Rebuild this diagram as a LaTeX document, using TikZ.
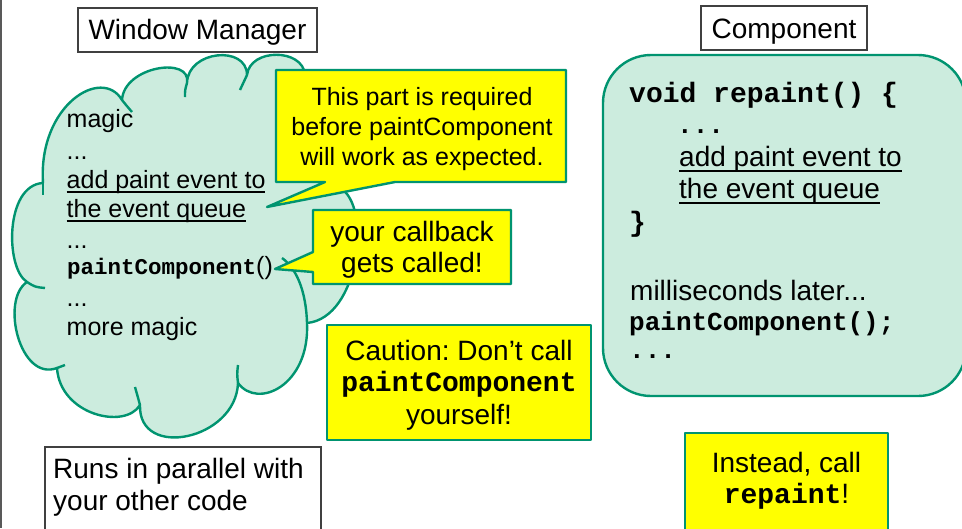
\documentclass[tikz,border=0pt]{standalone}
\usepackage{fontspec}
\setmainfont{Liberation Sans}
\newfontfamily\codefont{Liberation Mono}
\definecolor{cfill}{RGB}{204,236,222}
\definecolor{cline}{RGB}{0,148,112}
\definecolor{yfill}{RGB}{255,255,0}
\newsavebox\ulbox
\newcommand\ulx[1]{\sbox\ulbox{#1}\rlap{\rule[-0.18em]{\wd\ulbox}{0.055em}}\usebox\ulbox}
\newcommand\cw[1]{{\codefont\bfseries #1}}
\newcommand\szA{\fontsize{25}{30}\selectfont}
\newcommand\szB{\fontsize{28}{33}\selectfont}
\newcommand\szC{\fontsize{26}{31}\selectfont}
\newcommand\szD{\fontsize{22.5}{27}\selectfont}
\frenchspacing
\begin{document}
\begin{tikzpicture}[x=1pt,y=-1pt,
  greenline/.style={draw=cline, line width=2.4pt, line join=round},
  cloudsty/.style={greenline, fill=cfill},
  ybox/.style={greenline, fill=yfill},
  frame/.style={draw=black!75, line width=1.2pt, inner sep=0pt},
  lt/.style={anchor=base west, inner sep=0pt},
  ct/.style={anchor=base, inner sep=0pt}]
\useasboundingbox (0,0) rectangle (962,528);
\clip (0,0) rectangle (962,528);
\fill[white] (0,0) rectangle (962,528);
\coordinate (edgetop) at (1,0);
\coordinate (edgebot) at (1,528);
\draw[line width=1.6pt, black!65] (edgetop) -- (edgebot);

% ---------- cloud ----------
\filldraw[cloudsty] (43,183)
  .. controls (38,105) and (102,66) .. (122,100)
  .. controls (124,66) and (192,56) .. (187,83)
  .. controls (188,50) and (247,45) .. (247,75)
  .. controls (250,48) and (303,48) .. (305,75)
  .. controls (345,70) and (370,150) .. (340,188)
  .. controls (372,205) and (360,318) .. (307,323)
  .. controls (310,385) and (258,410) .. (238,383)
  .. controls (236,440) and (138,460) .. (140,405)
  .. controls (125,430) and (60,415) .. (57,368)
  .. controls (20,382) and (0,300) .. (27,282)
  .. controls (5,268) and (5,185) .. (43,183)
  -- cycle;
% inner arcs of the cloud
\draw[greenline] (122,100) .. controls (126,105) .. (132,112);
\draw[greenline] (187,83) .. controls (185,90) .. (185,97);
\draw[greenline] (247,75) .. controls (243,82) .. (240,90);
\draw[greenline] (307,323) .. controls (306,290) and (296,268) .. (282,258);
\draw[greenline] (238,383) .. controls (237,374) .. (238,365);
\draw[greenline] (140,405) .. controls (137,394) .. (135,387);
\draw[greenline] (57,368) .. controls (61,366) .. (65,365);
\draw[greenline] (27,282) .. controls (35,287) .. (45,288);
\draw[greenline] (43,183) .. controls (43,189) .. (43,195);

% cloud text
\node[lt, font=\szA] (c1) at (66.5,127.5) {magic};
\node[lt, font=\szA] (c2) at (66.5,159) {...};
\node[lt, font=\szA] (c3) at (66.5,188) {\ulx{add paint event to}};
\node[lt, font=\szA] (c4) at (66.5,217) {\ulx{the event queue}};
\node[lt, font=\szA] (c5) at (66.5,248) {...};
\node[lt, font=\szA] (c6) at (67,274) {{\szD\cw{paintComponent}}()};
\node[lt, font=\szA] (c7) at (66.5,306) {...};
\node[lt, font=\szA] (c8) at (66.5,335) {more magic};

% ---------- component box ----------
\node[greenline, fill=cfill, rounded corners=48pt, minimum width=363pt,
      minimum height=341pt, inner sep=0pt] (compbox) at (784.5,225.5) {};
\node[lt, font=\szB] (r1) at (629,102) {\cw{void repaint() \{}};
\node[lt, font=\szC] (r2) at (677,133) {\cw{...}};
\node[lt, font=\szB] (r3) at (679,166.5) {\ulx{add paint event to}};
\node[lt, font=\szB] (r4) at (679,198.5) {\ulx{the event queue}};
\node[lt, font=\szB] (r5) at (629,231) {\cw{\}}};
\node[lt, font=\szB] (r6) at (630,300) {milliseconds later...};
\node[lt, font=\szC] (r7) at (629,330) {\cw{paintComponent();}};
\node[lt, font=\szC] (r8) at (629,358) {\cw{...}};

% ---------- titles ----------
\node[frame, font=\szB, minimum width=239pt, minimum height=44pt,
      text height=25.3pt, text depth=6.7pt] (wm) at (197.5,30) {Window Manager};
\node[frame, font=\szB, minimum width=166pt, minimum height=44pt,
      text height=27.3pt, text depth=6.7pt] (comp) at (784,28) {Component};

% ---------- callout 1 ----------
\filldraw[ybox] (276,70) -- (566,70) -- (566,182) -- (395,182) -- (267,207)
  -- (325,182) -- (276,182) -- cycle;
\node[ct, font=\szA] (k1) at (422,105.5) {This part is required};
\node[ct, font=\szA] (k2) at (422,135.5) {before paintComponent};
\node[ct, font=\szA] (k3) at (422,165.5) {will work as expected.};

% ---------- callout 2 ----------
\filldraw[ybox] (313,210) -- (511,210) -- (511,284) -- (313,284) -- (313,272)
  -- (275,269) -- (313,252) -- cycle;
\node[ct, font=\szB] (y1) at (412,241) {your callback};
\node[ct, font=\szB] (y2) at (412,272) {gets called!};

% ---------- caution ----------
\node[ybox, minimum width=264pt, minimum height=115pt, inner sep=0pt] (caution) at (459,382.5) {};
\node[ct, font=\szB] (w1) at (459,360) {Caution: Don’t call};
\node[ct, font=\szB] (w2) at (459,391) {\cw{paintComponent}};
\node[ct, font=\szB] (w3) at (459,424) {yourself!};

% ---------- runs ----------
\node[frame, fill=white, minimum width=276pt, minimum height=100pt] (runs) at (183,497) {};
\node[lt, font=\szB] (u1) at (53,478) {Runs in parallel with};
\node[lt, font=\szB] (u2) at (53,510) {your other code};

% ---------- instead ----------
\node[ybox, minimum width=203pt, minimum height=112pt, inner sep=0pt] (instead) at (786.5,489) {};
\node[ct, font=\szB] (i1) at (786.5,472) {Instead, call};
\node[ct, font=\szB] (i2) at (786.5,503) {\cw{repaint}!};
\end{tikzpicture}
\end{document}
